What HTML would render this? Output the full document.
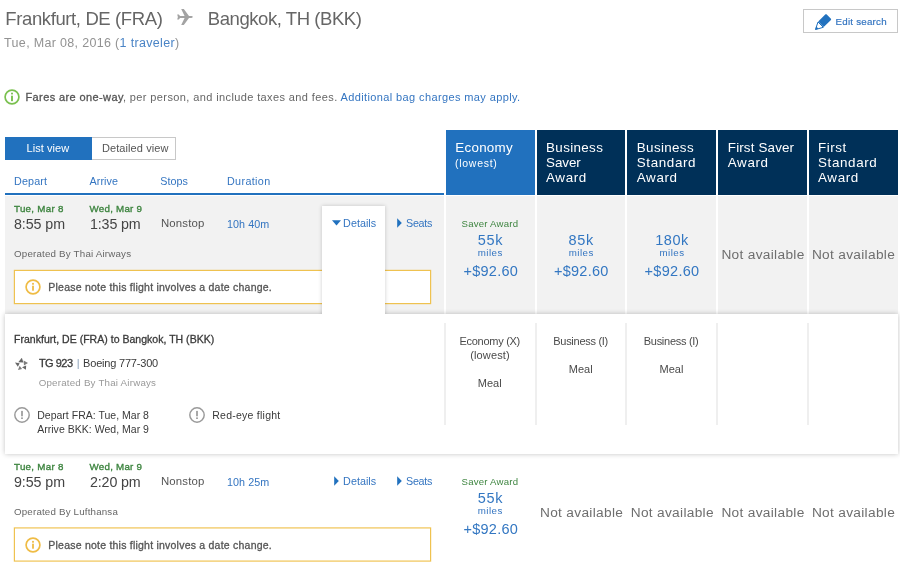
<!DOCTYPE html>
<html lang="en">
<head>
<meta charset="utf-8">
<title>Flight search results</title>
<style>
*{box-sizing:border-box;margin:0;padding:0}
html,body{width:900px;height:567px;overflow:hidden;background:#fff}
body{position:relative;font-family:"Liberation Sans","DejaVu Sans",sans-serif;color:#555;font-size:12px}
.t{position:absolute;white-space:nowrap;line-height:1}
.b{position:absolute}
.blue{color:#3475c1}
.sb{font-weight:bold}
.hd{position:absolute;top:130px;height:65px;background:#003058}
.cell{position:absolute;top:196px;height:118px;background:#f2f2f2}
.vline{position:absolute;top:323px;height:102px;width:2px;background:#efefef}
</style>
</head>
<body>

<!-- plane icon -->
<svg class="b" id="plane" style="left:176.5px;top:9px" width="16" height="16" viewBox="0 0 16 16"><path d="M0.2 5.4 L1.9 5.4 L3 7.1 L7.6 7.1 L4.2 0.1 L6.8 0.1 L12 7.1 L14.4 7.1 Q15.8 7.2 15.8 8 Q15.8 8.8 14.4 8.9 L12 8.9 L6.8 15.9 L4.2 15.9 L7.6 8.9 L3 8.9 L1.9 10.6 L0.2 10.6 L0.9 8 Z" fill="#a3a3a3"/></svg>

<!-- edit search button -->
<div class="b" id="edit" style="left:803px;top:9px;width:95px;height:24px;border:1px solid #c8c8c8;background:#fff"></div>
<svg class="b" id="pencil" style="left:815px;top:14px" width="17" height="16" viewBox="0 0 17 16"><path d="M3 8 L8.3 13.3 L0.4 15.6 Z" fill="#fff" stroke="#2171be" stroke-width="1" stroke-linejoin="round"/><path d="M0.4 15.6 L1.3 12.4 L3.6 14.7 Z" fill="#2171be"/><path d="M3.2 7.6 L10 0.8 C10.6 0.2 11.4 0.2 12 0.8 L15.7 4.5 C16.3 5.1 16.3 5.7 15.7 6.3 L8.7 13.1 Z" fill="#2171be"/></svg>

<!-- info icon -->
<svg class="b" id="info1" style="left:4.35px;top:89.2px" width="16" height="16" viewBox="0 0 16 16"><circle cx="8" cy="8" r="6.9" fill="#fff" stroke="#7ac04f" stroke-width="1.7"/><rect x="7.05" y="6.7" width="1.9" height="5.5" fill="#7ac04f"/><rect x="7.05" y="3.7" width="1.9" height="1.7" fill="#7ac04f"/></svg>

<!-- view toggle -->
<div class="b" id="lv" style="left:5px;top:137px;width:87px;height:22.5px;background:#2171be"></div>
<div class="b" id="dv" style="left:92px;top:137px;width:83.5px;height:22.5px;background:#fff;border:1px solid #c8c8c8;border-left:none"></div>
<div class="b" id="bl" style="left:5px;top:193px;width:439px;height:2px;background:#2171be"></div>

<!-- fare headers -->
<div class="hd" id="h1" style="left:446px;width:89px;background:#2171be"></div>
<div class="hd" id="h2" style="left:537px;width:88px"></div>
<div class="hd" id="h3" style="left:627px;width:89px"></div>
<div class="hd" id="h4" style="left:718px;width:89px"></div>
<div class="hd" id="h5" style="left:809px;width:89px"></div>

<!-- row 1 (grey) -->
<div class="b" id="r1" style="left:5px;top:196px;width:439px;height:118px;background:#f2f2f2"></div>
<div class="cell" style="left:446px;width:89px"></div>
<div class="cell" style="left:537px;width:88px"></div>
<div class="cell" style="left:627px;width:89px"></div>
<div class="cell" style="left:718px;width:89px"></div>
<div class="cell" style="left:809px;width:89px"></div>

<!-- notice box 1 -->
<div class="b" id="nb1" style="left:14px;top:269.75px;width:417px;height:34px;background:#fff;border:1px solid #efc250;box-shadow:0 0 0 .2px #efc250"></div>
<svg class="b" style="left:25px;top:279.15px" width="16" height="16" viewBox="0 0 16 16"><circle cx="8" cy="8" r="6.9" fill="#fff" stroke="#efbc45" stroke-width="1.7"/><rect x="7.1" y="6.7" width="1.8" height="5" fill="#efbc45"/><rect x="7.1" y="3.9" width="1.8" height="1.8" fill="#efbc45"/></svg>

<!-- details tab -->
<div class="b" id="tab" style="left:322px;top:206px;width:63px;height:110px;background:#fff;box-shadow:0 0 4px rgba(0,0,0,.2)"></div>
<svg class="b" style="left:332px;top:220px" width="9" height="6" viewBox="0 0 9 6"><path d="M0 0.3 H9 L4.5 5.6 Z" fill="#2171be"/></svg>
<svg class="b" style="left:397px;top:217.5px" width="5" height="10" viewBox="0 0 5 10"><path d="M0.2 0.2 V9.8 L4.8 5 Z" fill="#2171be"/></svg>

<!-- detail panel -->
<div class="b" id="panel" style="left:5px;top:314px;width:893px;height:140px;background:#fff;box-shadow:0 0 5px rgba(0,0,0,.24)"></div>
<div class="b" id="tabcover" style="left:322px;top:308px;width:63px;height:14px;background:#fff"></div>
<div class="vline" style="left:443.5px"></div>
<div class="vline" style="left:534.5px"></div>
<div class="vline" style="left:625px"></div>
<div class="vline" style="left:716px"></div>
<div class="vline" style="left:807px"></div>

<svg class="b" id="star" style="left:14.5px;top:357.6px" width="13.2" height="12.6" viewBox="0 0 13.2 12.6"><path d="M6.82 -0.26 L3.28 4.26 L8.40 4.50 Z" fill="#666"/><path d="M13.12 5.00 L8.61 2.56 L8.97 7.44 Z" fill="#7d7d7d"/><path d="M7.02 9.36 L11.16 7.53 L10.92 11.80 Z" fill="#666"/><path d="M2.95 12.02 L4.66 7.75 L7.10 11.04 Z" fill="#7d7d7d"/><path d="M-0.17 4.38 L4.65 5.36 L2.88 8.65 Z" fill="#666"/></svg>
<svg class="b" style="left:13.5px;top:406.75px" width="16" height="16" viewBox="0 0 16 16"><circle cx="8" cy="8" r="7.2" fill="#fff" stroke="#9a9a9a" stroke-width="1.45"/><rect x="7.25" y="3.9" width="1.5" height="5.4" fill="#8c8c8c"/><rect x="7.25" y="10.4" width="1.5" height="1.6" fill="#8c8c8c"/></svg>
<svg class="b" style="left:189px;top:406.75px" width="16" height="16" viewBox="0 0 16 16"><circle cx="8" cy="8" r="7.2" fill="#fff" stroke="#9a9a9a" stroke-width="1.45"/><rect x="7.25" y="3.9" width="1.5" height="5.4" fill="#8c8c8c"/><rect x="7.25" y="10.4" width="1.5" height="1.6" fill="#8c8c8c"/></svg>

<!-- row 2 (white) -->
<svg class="b" style="left:333.8px;top:475.5px" width="5" height="10" viewBox="0 0 5 10"><path d="M0.2 0.2 V9.8 L4.8 5 Z" fill="#2171be"/></svg>
<svg class="b" style="left:397px;top:475.5px" width="5" height="10" viewBox="0 0 5 10"><path d="M0.2 0.2 V9.8 L4.8 5 Z" fill="#2171be"/></svg>
<div class="b" id="nb2" style="left:14px;top:527px;transform:translateY(.5px);width:417px;height:34px;background:#fff;border:1px solid #efc250;box-shadow:0 0 0 .2px #efc250"></div>
<svg class="b" style="left:25px;top:537.15px" width="16" height="16" viewBox="0 0 16 16"><circle cx="8" cy="8" r="6.9" fill="#fff" stroke="#efbc45" stroke-width="1.7"/><rect x="7.1" y="6.7" width="1.8" height="5" fill="#efbc45"/><rect x="7.1" y="3.9" width="1.8" height="1.8" fill="#efbc45"/></svg>

<!-- texts -->
<div class="t" id="t1" style="left:5.30px;top:10.04px;font-size:18.5px;color:#666;letter-spacing:-0.383px;">Frankfurt, DE (FRA)</div>
<div class="t" id="t2" style="left:207.80px;top:10.04px;font-size:18.5px;color:#666;letter-spacing:-0.435px;">Bangkok, TH (BKK)</div>
<div class="t" id="t3" style="left:4.10px;top:36.52px;font-size:12.5px;color:#929292;letter-spacing:0.326px;">Tue, Mar 08, 2016 (<span style="color:#4a84c6">1 traveler</span>)</div>
<div class="t" id="t4" style="left:835.50px;top:16.65px;font-size:9.75px;color:#3475c1;letter-spacing:0.229px;-webkit-text-stroke:0.18px #3475c1;">Edit search</div>
<div class="t" id="t5" style="left:25.50px;top:91.89px;font-size:11px;color:#666;letter-spacing:0.387px;"><span style="color:#555;-webkit-text-stroke:.3px #555">Fares are one-way</span>, per person, and include taxes and fees. <span class="blue">Additional bag charges may apply.</span></div>
<div class="t" id="t6" style="left:26.50px;top:142.69px;font-size:11px;color:#fff;letter-spacing:0.062px;">List view</div>
<div class="t" id="t7" style="left:102.00px;top:142.69px;font-size:11px;color:#555;letter-spacing:0.083px;">Detailed view</div>
<div class="t" id="t8" style="left:14.00px;top:176.30px;font-size:10.75px;color:#3475c1;letter-spacing:0.161px;">Depart</div>
<div class="t" id="t9" style="left:89.50px;top:176.30px;font-size:10.75px;color:#3475c1;letter-spacing:0.070px;">Arrive</div>
<div class="t" id="t10" style="left:160.25px;top:176.30px;font-size:10.75px;color:#3475c1;letter-spacing:0.050px;">Stops</div>
<div class="t" id="t11" style="left:227.00px;top:176.30px;font-size:10.75px;color:#3475c1;letter-spacing:0.357px;">Duration</div>
<div class="t" id="h0_0" style="left:455.30px;top:140.56px;font-size:13.4px;color:#fff;letter-spacing:0.260px;">Economy</div>
<div class="t" id="h1_0" style="left:546.05px;top:140.56px;font-size:13.4px;color:#fff;letter-spacing:0.351px;">Business</div>
<div class="t" id="h1_1" style="left:546.05px;top:155.61px;font-size:13.4px;color:#fff;letter-spacing:-0.067px;">Saver</div>
<div class="t" id="h1_2" style="left:546.05px;top:170.66px;font-size:13.4px;color:#fff;letter-spacing:0.636px;">Award</div>
<div class="t" id="h2_0" style="left:636.80px;top:140.56px;font-size:13.4px;color:#fff;letter-spacing:0.351px;">Business</div>
<div class="t" id="h2_1" style="left:636.80px;top:155.61px;font-size:13.4px;color:#fff;letter-spacing:0.630px;">Standard</div>
<div class="t" id="h2_2" style="left:636.80px;top:170.66px;font-size:13.4px;color:#fff;letter-spacing:0.636px;">Award</div>
<div class="t" id="h3_0" style="left:727.80px;top:140.56px;font-size:13.4px;color:#fff;letter-spacing:0.151px;">First Saver</div>
<div class="t" id="h3_1" style="left:727.80px;top:155.61px;font-size:13.4px;color:#fff;letter-spacing:0.636px;">Award</div>
<div class="t" id="h4_0" style="left:818.05px;top:140.56px;font-size:13.4px;color:#fff;letter-spacing:0.524px;">First</div>
<div class="t" id="h4_1" style="left:818.05px;top:155.61px;font-size:13.4px;color:#fff;letter-spacing:0.630px;">Standard</div>
<div class="t" id="h4_2" style="left:818.05px;top:170.66px;font-size:13.4px;color:#fff;letter-spacing:0.636px;">Award</div>
<div class="t" id="h0_1" style="left:455.00px;top:157.61px;font-size:10.5px;color:#fff;letter-spacing:0.729px;">(lowest)</div>
<div class="t" id="r1a" style="left:14.00px;top:204.15px;font-size:9.75px;color:#3e8540;letter-spacing:0.297px;-webkit-text-stroke:0.35px #3e8540;">Tue, Mar 8</div>
<div class="t" id="r1b" style="left:89.50px;top:204.15px;font-size:9.75px;color:#3e8540;letter-spacing:0.253px;-webkit-text-stroke:0.35px #3e8540;">Wed, Mar 9</div>
<div class="t" id="r1c" style="left:14.00px;top:216.79px;font-size:14.25px;color:#444;letter-spacing:-0.071px;">8:55 pm</div>
<div class="t" id="r1d" style="left:90.00px;top:216.79px;font-size:14.25px;color:#444;letter-spacing:-0.143px;">1:35 pm</div>
<div class="t" id="r1e" style="left:160.90px;top:218.35px;font-size:11.4px;color:#555;letter-spacing:0.166px;">Nonstop</div>
<div class="t" id="r1f" style="left:227.00px;top:218.90px;font-size:10.75px;color:#3475c1;letter-spacing:0.058px;">10h 40m</div>
<div class="t" id="r1g" style="left:343.10px;top:218.15px;font-size:10.75px;color:#3475c1;letter-spacing:0.034px;">Details</div>
<div class="t" id="r1h" style="left:406.10px;top:218.15px;font-size:10.75px;color:#3475c1;letter-spacing:-0.320px;">Seats</div>
<div class="t" id="r1i" style="left:14.00px;top:248.75px;font-size:9.75px;color:#666;letter-spacing:0.196px;">Operated By Thai Airways</div>
<div class="t" id="r1j" style="left:48.30px;top:281.86px;font-size:10.5px;color:#555;letter-spacing:0.226px;-webkit-text-stroke:0.3px #555;">Please note this flight involves a date change.</div>
<div class="t" id="r1k" style="left:461.60px;top:218.67px;font-size:9.6px;color:#3e8540;letter-spacing:0.216px;">Saver Award</div>
<div class="t" id="r1l" style="left:477.80px;top:232.73px;font-size:14.5px;color:#3377c2;letter-spacing:0.703px;">55k</div>
<div class="t" id="r1m" style="left:477.80px;top:247.85px;font-size:9.75px;color:#3475c1;letter-spacing:0.447px;">miles</div>
<div class="t" id="r1n" style="left:463.40px;top:263.83px;font-size:14.5px;color:#3377c2;letter-spacing:0.282px;">+$92.60</div>
<div class="t" id="r2a" style="left:14.00px;top:462.15px;font-size:9.75px;color:#3e8540;letter-spacing:0.297px;-webkit-text-stroke:0.35px #3e8540;">Tue, Mar 8</div>
<div class="t" id="r2b" style="left:89.50px;top:462.15px;font-size:9.75px;color:#3e8540;letter-spacing:0.253px;-webkit-text-stroke:0.35px #3e8540;">Wed, Mar 9</div>
<div class="t" id="r2c" style="left:14.00px;top:474.79px;font-size:14.25px;color:#444;letter-spacing:-0.071px;">9:55 pm</div>
<div class="t" id="r2d" style="left:90.00px;top:474.79px;font-size:14.25px;color:#444;letter-spacing:-0.143px;">2:20 pm</div>
<div class="t" id="r2e" style="left:160.90px;top:476.35px;font-size:11.4px;color:#555;letter-spacing:0.166px;">Nonstop</div>
<div class="t" id="r2f" style="left:227.00px;top:476.90px;font-size:10.75px;color:#3475c1;letter-spacing:0.058px;">10h 25m</div>
<div class="t" id="r2g" style="left:343.10px;top:476.15px;font-size:10.75px;color:#3475c1;letter-spacing:0.034px;">Details</div>
<div class="t" id="r2h" style="left:406.10px;top:476.15px;font-size:10.75px;color:#3475c1;letter-spacing:-0.320px;">Seats</div>
<div class="t" id="r2i" style="left:14.00px;top:506.75px;font-size:9.75px;color:#666;letter-spacing:0.177px;">Operated By Lufthansa</div>
<div class="t" id="r2j" style="left:48.30px;top:539.86px;font-size:10.5px;color:#555;letter-spacing:0.226px;-webkit-text-stroke:0.3px #555;">Please note this flight involves a date change.</div>
<div class="t" id="r2k" style="left:461.60px;top:476.67px;font-size:9.6px;color:#3e8540;letter-spacing:0.216px;">Saver Award</div>
<div class="t" id="r2l" style="left:477.80px;top:490.73px;font-size:14.5px;color:#3377c2;letter-spacing:0.703px;">55k</div>
<div class="t" id="r2m" style="left:477.80px;top:505.85px;font-size:9.75px;color:#3475c1;letter-spacing:0.447px;">miles</div>
<div class="t" id="r2n" style="left:463.40px;top:521.83px;font-size:14.5px;color:#3377c2;letter-spacing:0.282px;">+$92.60</div>
<div class="t" id="c0l" style="left:568.55px;top:232.73px;font-size:14.5px;color:#3377c2;letter-spacing:0.703px;">85k</div>
<div class="t" id="c0m" style="left:568.80px;top:247.85px;font-size:9.75px;color:#3475c1;letter-spacing:0.447px;">miles</div>
<div class="t" id="c0n" style="left:553.90px;top:263.83px;font-size:14.5px;color:#3377c2;letter-spacing:0.282px;">+$92.60</div>
<div class="t" id="c1l" style="left:655.15px;top:232.73px;font-size:14.5px;color:#3377c2;letter-spacing:0.562px;">180k</div>
<div class="t" id="c1m" style="left:659.50px;top:247.85px;font-size:9.75px;color:#3475c1;letter-spacing:0.447px;">miles</div>
<div class="t" id="c1n" style="left:644.60px;top:263.83px;font-size:14.5px;color:#3377c2;letter-spacing:0.282px;">+$92.60</div>
<div class="t" id="na1" style="left:721.40px;top:248.10px;font-size:13.7px;color:#6e6e6e;letter-spacing:0.312px;">Not available</div>
<div class="t" id="na2" style="left:811.90px;top:248.10px;font-size:13.7px;color:#6e6e6e;letter-spacing:0.312px;">Not available</div>
<div class="t" id="nc0" style="left:540.00px;top:506.10px;font-size:13.7px;color:#6e6e6e;letter-spacing:0.312px;">Not available</div>
<div class="t" id="nc1" style="left:630.70px;top:506.10px;font-size:13.7px;color:#6e6e6e;letter-spacing:0.312px;">Not available</div>
<div class="t" id="nc2" style="left:721.40px;top:506.10px;font-size:13.7px;color:#6e6e6e;letter-spacing:0.312px;">Not available</div>
<div class="t" id="nc3" style="left:811.90px;top:506.10px;font-size:13.7px;color:#6e6e6e;letter-spacing:0.312px;">Not available</div>
<div class="t" id="p1" style="left:14.00px;top:334.31px;font-size:10.5px;color:#3a3a3a;letter-spacing:0.022px;-webkit-text-stroke:0.3px #3a3a3a;">Frankfurt, DE (FRA) to Bangkok, TH (BKK)</div>
<div class="t" id="p2" style="left:38.90px;top:358.29px;font-size:11px;color:#3a3a3a;letter-spacing:-0.515px;-webkit-text-stroke:0.3px #3a3a3a;">TG 923</div>
<div class="t" id="p2b" style="left:76.70px;top:357.89px;font-size:11px;color:#8aa0b8;letter-spacing:0.000px;">|</div>
<div class="t" id="p2c" style="left:83.10px;top:358.29px;font-size:11px;color:#3a3a3a;letter-spacing:-0.199px;">Boeing 777-300</div>
<div class="t" id="p3" style="left:38.70px;top:377.75px;font-size:9.75px;color:#999;letter-spacing:0.206px;">Operated By Thai Airways</div>
<div class="t" id="p4" style="left:37.20px;top:409.86px;font-size:10.5px;color:#3a3a3a;letter-spacing:0.015px;">Depart FRA: Tue, Mar 8</div>
<div class="t" id="p5" style="left:37.20px;top:424.11px;font-size:10.5px;color:#3a3a3a;letter-spacing:0.024px;">Arrive BKK: Wed, Mar 9</div>
<div class="t" id="p6" style="left:212.30px;top:409.86px;font-size:10.5px;color:#3a3a3a;letter-spacing:0.243px;">Red-eye flight</div>
<div class="t" id="q1" style="left:459.50px;top:335.89px;font-size:11px;color:#4a4a4a;letter-spacing:-0.280px;">Economy (X)</div>
<div class="t" id="q2" style="left:470.25px;top:350.39px;font-size:11px;color:#4a4a4a;letter-spacing:0.123px;">(lowest)</div>
<div class="t" id="q3" style="left:477.75px;top:378.39px;font-size:11px;color:#4a4a4a;letter-spacing:0.039px;">Meal</div>
<div class="t" id="q4" style="left:553.25px;top:335.89px;font-size:11px;color:#4a4a4a;letter-spacing:-0.277px;">Business (I)</div>
<div class="t" id="q5" style="left:568.75px;top:364.29px;font-size:11px;color:#4a4a4a;letter-spacing:0.039px;">Meal</div>
<div class="t" id="q6" style="left:643.75px;top:335.89px;font-size:11px;color:#4a4a4a;letter-spacing:-0.277px;">Business (I)</div>
<div class="t" id="q7" style="left:659.50px;top:364.29px;font-size:11px;color:#4a4a4a;letter-spacing:0.039px;">Meal</div>

</body>
</html>
